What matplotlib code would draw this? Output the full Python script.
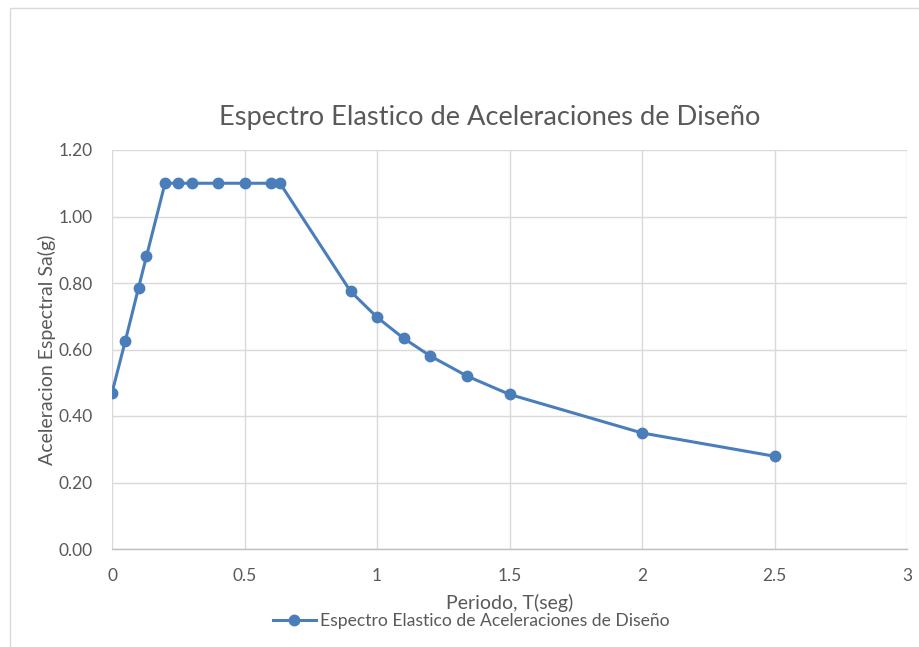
import matplotlib
matplotlib.use("Agg")
import matplotlib.pyplot as plt
from matplotlib.patches import Rectangle

# Spectral periods T (s) and design accelerations Sa (g)
periodo = [0.0, 0.05, 0.10, 0.13, 0.20, 0.25, 0.30, 0.40, 0.50, 0.60, 0.634,
           0.90, 1.00, 1.10, 1.20, 1.34, 1.50, 2.00, 2.50]
sa = [0.47, 0.625, 0.785, 0.88, 1.10, 1.10, 1.10, 1.10, 1.10, 1.10, 1.10,
      0.775, 0.697, 0.634, 0.581, 0.52, 0.465, 0.349, 0.279]

x_ticks = [0, 0.5, 1, 1.5, 2, 2.5, 3]
x_tick_labels = ["0", "0.5", "1", "1.5", "2", "2.5", "3"]
y_ticks = [0.0, 0.2, 0.4, 0.6, 0.8, 1.0, 1.2]

serie = "Espectro Elastico de Aceleraciones de Diseño"
titulo = "Espectro Elastico de Aceleraciones de Diseño"

plt.rcParams['font.family'] = ['Lato', 'DejaVu Sans']
text_color = "#595959"
grid_color = "#d9d9d9"
line_color = "#4a7ebb"

fig = plt.figure(figsize=(9.19, 6.47), dpi=100)
fig.patch.set_facecolor("white")

# chart frame
fig.patches.append(Rectangle((10 / 919, -0.1), 1.2, 1.1 - 8 / 647,
                             transform=fig.transFigure, fill=False,
                             edgecolor="#d9d9d9", linewidth=1.0))

ax = fig.add_axes([112 / 919, 1 - 549 / 647, (907 - 112) / 919, (549 - 150) / 647])
ax.plot(periodo, sa, color=line_color, linewidth=2.2, marker="o",
        markersize=7.5, markerfacecolor=line_color, markeredgecolor=line_color,
        label=serie, zorder=3)

ax.set_xlim(0, 3)
ax.set_ylim(0, 1.2)
ax.set_xticks(x_ticks)
ax.set_xticklabels(x_tick_labels)
ax.set_yticks(y_ticks)
ax.set_yticklabels([f"{v:.2f}" for v in y_ticks])
ax.grid(True, color=grid_color, linewidth=1.0)
ax.set_axisbelow(True)
for s in ["top", "right", "left"]:
    ax.spines[s].set_visible(False)
ax.spines["bottom"].set_color("#bfbfbf")
ax.spines["bottom"].set_linewidth(1.0)
ax.tick_params(axis="both", length=0, labelsize=12.5, colors=text_color)
ax.tick_params(axis="x", pad=14)
ax.tick_params(axis="y", pad=14)

ax.set_xlabel("Periodo, T(seg)", fontsize=14, color=text_color, labelpad=7)
ax.set_ylabel("Aceleracion Espectral Sa(g)", fontsize=14, color=text_color, labelpad=2)
fig.text(490 / 919, 1 - 117 / 647, titulo, fontsize=19.6, color=text_color,
         ha="center", va="center")

leg = ax.legend(loc="center", bbox_to_anchor=(471 / 919, 1 - 621 / 647),
                bbox_transform=fig.transFigure, frameon=False, fontsize=12.6,
                handlelength=2.5, handletextpad=0.2, borderpad=0)
for t in leg.get_texts():
    t.set_color(text_color)

fig.savefig("out.png", dpi=100, facecolor="white")
